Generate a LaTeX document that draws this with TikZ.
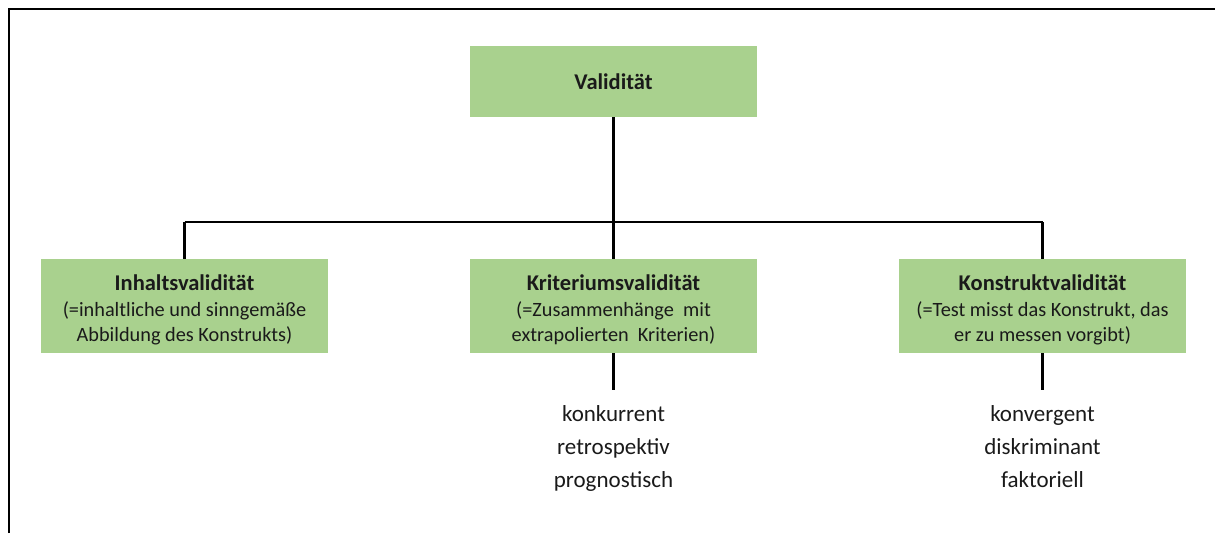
\documentclass[tikz,border=0pt]{standalone}
\usepackage{fontspec}
\setmainfont{Carlito}
\definecolor{boxgreen}{HTML}{A9D18E}
\definecolor{txt}{HTML}{1A1A1A}
\newcommand{\boxhead}[1]{\rule{0pt}{23pt}{\fontsize{22.5}{24.5}\selectfont\bfseries #1}}
\begin{document}
\begin{tikzpicture}[x=1pt,y=-1pt,
  greenbox/.style={fill=boxgreen,draw=none,minimum width=287pt,minimum height=94pt,inner sep=0pt,align=center,text=txt,font=\fontsize{20.3}{24.5}\selectfont},
  topbox/.style={greenbox,minimum height=71pt,font=\fontsize{22.5}{24.5}\selectfont\bfseries},
  conn/.style={draw=black,line width=2.1pt},
  item/.style={text=txt,font=\fontsize{23}{26}\selectfont,inner sep=0pt,anchor=base}]
\useasboundingbox (0,0) rectangle (1215,533);
\fill[white] (0,0) rectangle (1215,533);
\draw[line width=2pt] (8.5,533) -- (8.5,9) -- (1215,9);
\node[topbox] (val) at (613.5,81.5) {Validität};
\node[greenbox] (inh) at (184.5,306) {\boxhead{Inhaltsvalidität}\\[1.5pt](=inhaltliche und sinngemäße\\Abbildung des Konstrukts)};
\node[greenbox] (kri) at (613.5,306) {\boxhead{Kriteriumsvalidität}\\[1.5pt](=Zusammenhänge\ \ mit\\extrapolierten\ \ Kriterien)};
\node[greenbox] (kon) at (1042.5,306) {\boxhead{Konstruktvalidität}\\[1.5pt](=Test misst das Konstrukt, das\\er zu messen vorgibt)};
\coordinate (hub) at (613.5,222);
\coordinate (hl) at (184.5,222);
\coordinate (hr) at (1042.5,222);
\draw[conn] (val.south) -- (hub);
\draw[conn] (hl) -- (hr);
\draw[conn] (hl) -- (inh.north);
\draw[conn] (hub) -- (kri.north);
\draw[conn] (hr) -- (kon.north);
\coordinate (kend) at (613.5,390);
\coordinate (cend) at (1042.5,390);
\draw[conn] (kri.south) -- (kend);
\draw[conn] (kon.south) -- (cend);
\node[item] (k1) at (613.5,421) {konkurrent};
\node[item] (k2) at (613.5,454) {retrospektiv};
\node[item] (k3) at (613.5,487) {prognostisch};
\node[item] (c1) at (1042.5,421) {konvergent};
\node[item] (c2) at (1042.5,454) {diskriminant};
\node[item] (c3) at (1042.5,487) {faktoriell};
\end{tikzpicture}
\end{document}
